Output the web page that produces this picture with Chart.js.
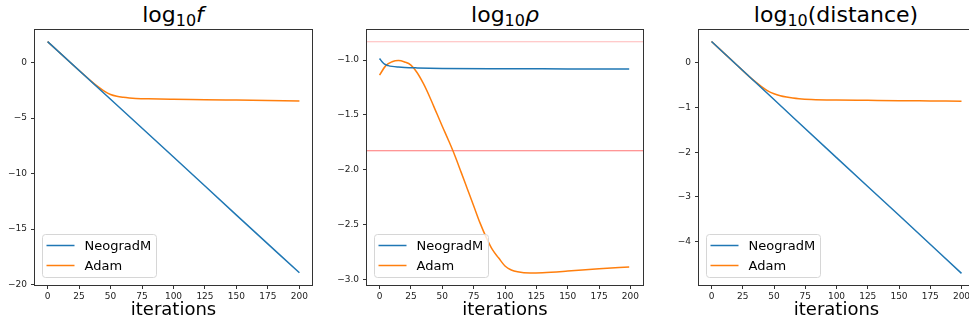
<!DOCTYPE html>
<html>
<head>
<meta charset="utf-8">
<script src="https://cdn.jsdelivr.net/npm/chart.js@4.4.1/dist/chart.umd.min.js"></script>
<style>
  html, body { margin: 0; padding: 0; background: #fff; width: 969px; height: 324px; overflow: hidden; }
  .panel { position: absolute; top: 0; height: 324px; }
  .ttl { position: absolute; top: 0; height: 30px; line-height: 30px; font-family: "DejaVu Sans", sans-serif;
         font-size: 22px; color: #000; white-space: nowrap; transform: translateX(-50%); }
  .ttl .sub { font-size: 16px; position: relative; top: 4px; }
</style>
</head>
<body>
<div class="ttl" style="left:173px">log<span class="sub">10</span><i>f</i></div>
<div class="ttl" style="left:505px">log<span class="sub">10</span><i>ρ</i></div>
<div class="ttl" style="left:836px">log<span class="sub">10</span>(distance)</div>
<div class="panel" style="left:0px;width:317px"><canvas id="c1"></canvas></div>
<div class="panel" style="left:332px;width:316px"><canvas id="c2"></canvas></div>
<div class="panel" style="left:664px;width:315px"><canvas id="c3"></canvas></div>
<script>
// x ticks shared by all three panels
const iterTicks = [0, 25, 50, 75, 100, 125, 150, 175, 200];
const seriesNames = ["NeogradM", "Adam"];

// panel 1: log10 f
const fIterNeo = [0, 50, 100, 150, 200];
const fNeo = [1.9, -3.3, -8.5, -13.75, -18.95];
const fIterAdam = [0, 10, 20, 30, 35, 40, 45, 50, 55, 60, 65, 70, 80, 100, 125, 150, 175, 200];
const fAdam = [1.9, 0.86, -0.18, -1.2, -1.7, -2.16, -2.57, -2.87, -3.03, -3.12, -3.18, -3.22, -3.26, -3.3, -3.33, -3.37, -3.41, -3.45];
const fTicks = [0, -5, -10, -15, -20];

// panel 2: log10 rho
const rIterNeo = [0, 2, 4, 7, 10, 15, 20, 30, 50, 100, 150, 199];
const rNeo = [-0.985, -1.015, -1.037, -1.05, -1.057, -1.063, -1.067, -1.071, -1.076, -1.079, -1.08, -1.081];
const rIterAdam = [0, 5, 10, 15, 20, 25, 30, 35, 40, 45, 50, 55, 60, 65, 70, 75, 80, 85, 90, 95, 100, 105, 110, 120, 130, 150, 175, 199];
const rAdam = [-1.137, -1.05, -1.015, -1.004, -1.017, -1.045, -1.115, -1.215, -1.336, -1.47, -1.603, -1.733, -1.87, -2.022, -2.175, -2.328, -2.483, -2.617, -2.73, -2.806, -2.879, -2.915, -2.932, -2.943, -2.94, -2.925, -2.903, -2.887];
const rTicks = [-1.0, -1.5, -2.0, -2.5, -3.0];
const rhoLevels = [-0.832, -1.827];
const rhoLevelColors = ["rgba(255,0,0,0.28)", "rgba(255,0,0,0.55)"];

// panel 3: log10 distance
const dIterNeo = [0, 50, 100, 150, 200];
const dNeo = [0.48, -0.82, -2.12, -3.41, -4.71];
const dIterAdam = [0, 10, 20, 30, 35, 40, 45, 50, 55, 60, 65, 70, 80, 100, 125, 150, 175, 200];
const dAdam = [0.48, 0.22, -0.04, -0.3, -0.42, -0.53, -0.625, -0.69, -0.735, -0.765, -0.787, -0.802, -0.818, -0.831, -0.838, -0.845, -0.851, -0.857];
const dTicks = [0, -1, -2, -3, -4];

const C = { blue: "#1f77b4", orange: "#ff7f0e", spine: "#333", text: "#222" };
Chart.defaults.font.family = "'DejaVu Sans', sans-serif";
Chart.defaults.color = C.text;

const pts = (xs, ys) => xs.map((x, i) => ({ x: x, y: ys[i] }));
const minus = v => (v < 0 ? "\u2212" : "") + Math.abs(v);

// frame round the plot area (all four spines)
const frame = {
    id: "frame",
    afterDraw(chart) {
        const { ctx, chartArea: a } = chart;
        ctx.save();
        ctx.strokeStyle = C.spine;
        ctx.lineWidth = 1;
        ctx.strokeRect(Math.round(a.left) - 0.5, Math.round(a.top) - 0.5, Math.round(a.right - a.left) + 1, Math.round(a.bottom - a.top) + 1);
        ctx.restore();
    }
};

// matplotlib-like legend in the lower left corner
const cornerLegend = {
    id: "cornerLegend",
    afterDraw(chart) {
        const { ctx, chartArea: a } = chart;
        const x0 = a.left + 7.5, y0 = a.bottom - 50.5, w = 114, h = 43;
        ctx.save();
        ctx.beginPath();
        ctx.roundRect(x0, y0, w, h, 3);
        ctx.fillStyle = "rgba(255,255,255,0.8)";
        ctx.fill();
        ctx.strokeStyle = "#d6d6d6";
        ctx.lineWidth = 1;
        ctx.stroke();
        chart.data.datasets.forEach((ds, i) => {
            const cy = y0 + 11 + i * 20;
            ctx.beginPath();
            ctx.moveTo(x0 + 4, cy);
            ctx.lineTo(x0 + 32, cy);
            ctx.strokeStyle = ds.borderColor;
            ctx.lineWidth = 1.5;
            ctx.stroke();
            ctx.fillStyle = "#000";
            ctx.font = "13px 'DejaVu Sans'";
            ctx.textBaseline = "middle";
            ctx.fillText(ds.label, x0 + 42, cy + 1);
        });
        ctx.restore();
    }
};

// horizontal reference lines (axhline)
const hLines = {
    id: "hLines",
    beforeDatasetsDraw(chart, args, opts) {
        if (!opts.values) return;
        const { ctx, chartArea: a, scales } = chart;
        ctx.save();
        opts.values.forEach((v, i) => {
            const y = scales.y.getPixelForValue(v);
            ctx.beginPath();
            ctx.moveTo(a.left, y);
            ctx.lineTo(a.right, y);
            ctx.strokeStyle = opts.colors[i];
            ctx.lineWidth = 1.2;
            ctx.stroke();
        });
        ctx.restore();
    }
};

function makeChart(id, neo, adam, yTicks, yMin, yMax, fmt, levels) {
    const line = (label, data, color) => ({
        label: label, data: data, borderColor: color, backgroundColor: color,
        borderWidth: 1.5, pointRadius: 0, cubicInterpolationMode: "monotone", fill: false
    });
    return new Chart(document.getElementById(id), {
        type: "line",
        data: { datasets: [line(seriesNames[0], neo, C.blue), line(seriesNames[1], adam, C.orange)] },
        options: {
            responsive: true, maintainAspectRatio: false, animation: false,
            layout: { padding: { top: 30, right: 5, bottom: 3, left: 0 } },
            plugins: {
                legend: { display: false }, tooltip: { enabled: false },
                hLines: levels || {}
            },
            scales: {
                x: {
                    type: "linear", min: -10, max: 210,
                    afterBuildTicks: s => { s.ticks = iterTicks.map(v => ({ value: v })); },
                    afterFit: s => { s.height = 36; s.paddingLeft = 0; s.paddingRight = 0; },
                    ticks: { font: { size: 9 }, padding: 2, maxRotation: 0, autoSkip: false, callback: v => minus(v) },
                    grid: { drawOnChartArea: false, drawTicks: true, tickLength: 4, tickColor: C.spine },
                    border: { display: false },
                    title: { display: true, text: "iterations", font: { size: 18 }, color: "#000", padding: 0 }
                },
                y: {
                    min: yMin, max: yMax,
                    afterBuildTicks: s => { s.ticks = yTicks.map(v => ({ value: v })); },
                    afterFit: s => { s.width = 35; },
                    ticks: { font: { size: 9 }, padding: 4, autoSkip: false, callback: fmt },
                    grid: { drawOnChartArea: false, drawTicks: true, tickLength: 4, tickColor: C.spine },
                    border: { display: false }
                }
            }
        },
        plugins: [hLines, frame, cornerLegend]
    });
}

makeChart("c1", pts(fIterNeo, fNeo), pts(fIterAdam, fAdam), fTicks, -20.05, 2.95, v => minus(v));
makeChart("c2", pts(rIterNeo, rNeo), pts(rIterAdam, rAdam), rTicks, -3.052, -0.725,
    v => (v < 0 ? "\u2212" : "") + Math.abs(v).toFixed(1), { values: rhoLevels, colors: rhoLevelColors });
makeChart("c3", pts(dIterNeo, dNeo), pts(dIterAdam, dAdam), dTicks, -4.97, 0.737, v => minus(v));
</script>
</body>
</html>
